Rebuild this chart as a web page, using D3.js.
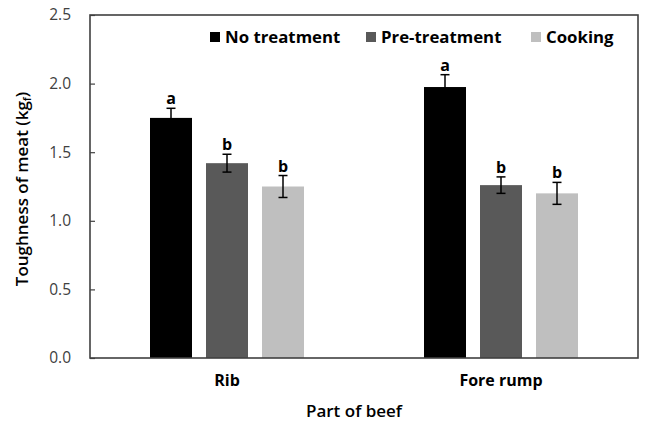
<!DOCTYPE html>
<html>
<head>
<meta charset="utf-8">
<script src="https://cdn.jsdelivr.net/npm/d3@7"></script>
<style>
  html, body { margin: 0; padding: 0; background: #fff; }
  svg text { font-family: "Open Sans", "Noto Sans", sans-serif; }
</style>
</head>
<body>
<svg id="chart" width="645" height="424"></svg>
<script>
// Beef parts on the x axis
const parts = ["Rib", "Fore rump"];
// Treatment series
const treatments = ["No treatment", "Pre-treatment", "Cooking"];
const colors = ["#000000", "#595959", "#bfbfbf"];
// Mean toughness (kgf) per part, one array per treatment
const noTreatment = [1.75, 1.975];
const preTreatment = [1.42, 1.26];
const cooking = [1.25, 1.20];
// Standard errors
const noTreatmentErr = [0.07, 0.09];
const preTreatmentErr = [0.065, 0.06];
const cookingErr = [0.08, 0.08];
// Significance letters
const noTreatmentSig = ["a", "a"];
const preTreatmentSig = ["b", "b"];
const cookingSig = ["b", "b"];
const yTicks = [0, 0.5, 1.0, 1.5, 2.0, 2.5];

const seriesValues = [noTreatment, preTreatment, cooking];
const seriesErr = [noTreatmentErr, preTreatmentErr, cookingErr];
const seriesSig = [noTreatmentSig, preTreatmentSig, cookingSig];

const svg = d3.select("#chart");
const m = { left: 90, right: 638, top: 15, bottom: 358 };

const x = d3.scaleBand().domain(parts).range([m.left, m.right]);
const y = d3.scaleLinear().domain([0, 2.5]).range([m.bottom, m.top]);
const barW = 42, step = 56;
const inner = d3.scaleBand().domain(treatments)
  .range([x.bandwidth() / 2 - step * 1.5, x.bandwidth() / 2 + step * 1.5])
  .paddingInner((step - barW) / step).paddingOuter((step - barW) / step / 2);

const rows = [];
parts.forEach((p, i) => treatments.forEach((t, j) => rows.push({
  part: p, t, color: colors[j],
  v: seriesValues[j][i], e: seriesErr[j][i], sig: seriesSig[j][i]
})));

// Bars
svg.append("g").selectAll("rect").data(rows).join("rect")
  .attr("x", d => x(d.part) + inner(d.t))
  .attr("y", d => y(d.v))
  .attr("width", inner.bandwidth())
  .attr("height", d => y(0) - y(d.v))
  .attr("fill", d => d.color);

// Error bars
const eb = svg.append("g").attr("stroke", "#000").attr("stroke-width", 1.5);
rows.forEach(d => {
  const cx = x(d.part) + inner(d.t) + inner.bandwidth() / 2;
  eb.append("line").attr("x1", cx).attr("x2", cx)
    .attr("y1", y(d.v + d.e)).attr("y2", y(d.v - d.e));
  [d.v + d.e, d.v - d.e].forEach(v => eb.append("line")
    .attr("x1", cx - 4.5).attr("x2", cx + 4.5).attr("y1", y(v)).attr("y2", y(v)));
});

// Significance letters
svg.append("g").selectAll("text").data(rows).join("text")
  .attr("x", d => x(d.part) + inner(d.t) + inner.bandwidth() / 2)
  .attr("y", d => y(d.v + d.e) - 4)
  .attr("text-anchor", "middle")
  .attr("font-size", 16).attr("font-weight", "bold").attr("fill", "#000")
  .text(d => d.sig);

// Y axis ticks (inside) and labels
const yAxis = d3.axisLeft(y).tickValues(yTicks).tickSize(-5)
  .tickFormat(d3.format(".1f")).tickPadding(19);
const ya = svg.append("g").attr("transform", `translate(${m.left},0)`).call(yAxis);
ya.select(".domain").remove();
ya.selectAll(".tick line").attr("stroke", "#404040").attr("stroke-width", 1.2);
ya.selectAll(".tick text").attr("font-size", 15.5).attr("fill", "#404040")
  .attr("font-family", "'Open Sans', sans-serif");

// X axis category labels
const xa = svg.append("g").attr("transform", `translate(0,${m.bottom})`)
  .call(d3.axisBottom(x).tickSize(0).tickPadding(17));
xa.select(".domain").remove();
xa.selectAll(".tick text").attr("font-size", 16).attr("font-weight", "bold")
  .attr("fill", "#000").attr("font-family", "'Open Sans', sans-serif");

// Plot frame
svg.append("rect")
  .attr("x", m.left).attr("y", m.top)
  .attr("width", m.right - m.left).attr("height", m.bottom - m.top)
  .attr("fill", "none").attr("stroke", "#404040").attr("stroke-width", 1.6);

// Axis titles
svg.append("text")
  .attr("x", 354).attr("y", 417)
  .attr("text-anchor", "middle").attr("font-size", 17).attr("font-weight", 600)
  .attr("fill", "#000")
  .text("Part of beef");

const yt = svg.append("text")
  .attr("transform", `translate(28,189) rotate(-90)`)
  .attr("text-anchor", "middle").attr("font-size", 17).attr("font-weight", 600)
  .attr("fill", "#000");
yt.append("tspan").text("Toughness of meat (kg");
yt.append("tspan").attr("font-size", 11).attr("dy", 3).text("f");
yt.append("tspan").attr("dy", -3).text(")");

// Legend
const legendX = [210, 366, 531];
const lg = svg.append("g");
treatments.forEach((t, j) => {
  lg.append("rect").attr("x", legendX[j]).attr("y", 32)
    .attr("width", 10).attr("height", 10).attr("fill", colors[j]);
  lg.append("text").attr("x", legendX[j] + 15).attr("y", 43)
    .attr("font-size", 16.8).attr("font-weight", "bold").attr("fill", "#000")
    .text(t);
});
</script>
</body>
</html>
